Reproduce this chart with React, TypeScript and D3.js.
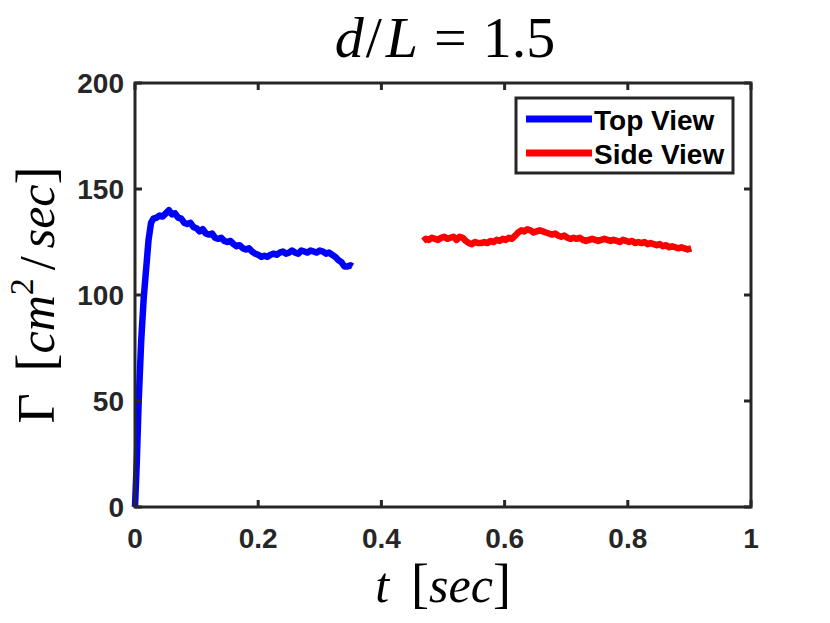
import * as d3 from 'd3'

// Top View (blue) and Side View (red) circulation
const topViewTime = [
  0, 0.003, 0.006, 0.01, 0.014, 0.018, 0.022, 0.026, 0.03, 0.035, 0.04, 0.045, 0.05, 0.055, 0.06, 0.065,
  0.07, 0.075, 0.08, 0.085, 0.09, 0.095, 0.1, 0.105, 0.11, 0.115, 0.12, 0.125, 0.13, 0.135, 0.14, 0.145,
  0.15, 0.155, 0.16, 0.165, 0.17, 0.175, 0.18, 0.185, 0.19, 0.195, 0.2, 0.205, 0.21, 0.215, 0.22, 0.225,
  0.23, 0.235, 0.24, 0.245, 0.25, 0.255, 0.26, 0.265, 0.27, 0.275, 0.28, 0.285, 0.29, 0.295, 0.3, 0.305,
  0.31, 0.315, 0.32, 0.325, 0.33, 0.335, 0.34, 0.345, 0.35, 0.353,
]
const topViewGamma = [
  0, 22, 50, 78, 98, 112, 126, 134, 136, 136.5, 137.5, 137, 138.5, 140, 138, 138.5,
  136.5, 136, 134, 133.5, 134, 132, 131.5, 130, 131, 129, 128.5, 129, 127, 126.5, 127, 125.5,
  125, 125.5, 124, 123, 123.5, 122, 121.5, 122, 120.5, 119.5, 119, 118, 118.5, 118, 119, 119.5,
  119, 120, 120.5, 119.5, 120, 121, 120, 119.5, 121, 120.5, 120, 121, 120.5, 120, 121, 120.5,
  119.5, 120, 119, 118, 116.5, 115.5, 113.5, 113.5, 114, 113.5,
]

const sideViewTime = [
  0.468, 0.472, 0.477, 0.482, 0.487, 0.492, 0.497, 0.502, 0.507, 0.512, 0.517, 0.522, 0.527, 0.532,
  0.537, 0.542, 0.547, 0.552, 0.557, 0.562, 0.567, 0.572, 0.577, 0.582, 0.587, 0.592, 0.597, 0.602,
  0.607, 0.612, 0.617, 0.622, 0.627, 0.632, 0.637, 0.642, 0.647, 0.652, 0.657, 0.662, 0.667, 0.672,
  0.677, 0.682, 0.687, 0.692, 0.697, 0.702, 0.707, 0.712, 0.717, 0.722, 0.727, 0.732, 0.737, 0.742,
  0.747, 0.752, 0.757, 0.762, 0.767, 0.772, 0.777, 0.782, 0.787, 0.792, 0.797, 0.802, 0.807, 0.812,
  0.817, 0.822, 0.827, 0.832, 0.837, 0.842, 0.847, 0.852, 0.857, 0.862, 0.867, 0.872, 0.877, 0.882,
  0.887, 0.892, 0.897, 0.903,
]
const sideViewGamma = [
  125.5, 126.5, 126, 127, 126.5, 126, 127, 127.5, 126.5, 127, 127.5, 126, 127.5, 127,
  125.5, 124.5, 124, 125, 124.5, 124.5, 125, 124.5, 125.5, 125, 126, 125.5, 126.5, 126,
  127, 126.5, 128, 129.5, 130.5, 130, 131, 130.5, 129.5, 130, 130.5, 130, 129.5, 129,
  128.5, 129, 128, 127.5, 128, 127, 126.5, 127, 126.5, 127, 126, 125.5, 126, 126.5,
  126, 125.5, 126, 126.5, 126, 125.5, 126, 125.5, 125, 126, 125.5, 125, 125.5, 124.5,
  125, 124.5, 125, 124, 124.5, 124, 123.5, 124, 123, 123.5, 122.5, 123, 122.5, 122,
  122.5, 122, 121.5, 122,
]

const xTicks = [0, 0.2, 0.4, 0.6, 0.8, 1]
const xTickLabels = ['0', '0.2', '0.4', '0.6', '0.8', '1']
const yTicks = [0, 50, 100, 150, 200]
const yTickLabels = ['0', '50', '100', '150', '200']

const legendLabels = ['Top View', 'Side View']
const seriesColors = ['#0000ff', '#ff0000']

const W = 830
const H = 623
const margin = { left: 135, right: 79, top: 83, bottom: 116 }
const axisColor = '#262626'
const tickFont = '"Liberation Sans", Arial, sans-serif'
const mathFont = '"Liberation Serif", "Times New Roman", serif'

export default function App() {
  const x = d3.scaleLinear().domain([0, 1]).range([margin.left, W - margin.right])
  const y = d3.scaleLinear().domain([0, 200]).range([H - margin.bottom, margin.top])

  const line = d3
    .line<[number, number]>()
    .x(d => x(d[0]))
    .y(d => y(d[1]))

  const topPts = topViewTime.map((t, i) => [t, topViewGamma[i]] as [number, number])
  const sidePts = sideViewTime.map((t, i) => [t, sideViewGamma[i]] as [number, number])

  const x0 = x(0), x1 = x(1), y0 = y(0), y1 = y(200)
  const tickLen = 7

  // legend box
  const lg = { x: 516, y: 98, w: 217, h: 75 }

  return (
    <svg width={W} height={H} style={{ position: 'absolute', left: 0, top: 0, background: '#fff' }}>
      <rect x={0} y={0} width={W} height={H} fill="#fff" />

      {/* data */}
      <path d={line(topPts) || ''} fill="none" stroke={seriesColors[0]} strokeWidth={6.5} strokeLinejoin="round" />
      <path d={line(sidePts) || ''} fill="none" stroke={seriesColors[1]} strokeWidth={6.5} strokeLinejoin="round" />

      {/* axes box */}
      <rect x={x0} y={y1} width={x1 - x0} height={y0 - y1} fill="none" stroke={axisColor} strokeWidth={3} />

      {/* ticks */}
      {xTicks.map(t => (
        <g key={'xt' + t}>
          <line x1={x(t)} x2={x(t)} y1={y0} y2={y0 - tickLen} stroke={axisColor} strokeWidth={3} />
          <line x1={x(t)} x2={x(t)} y1={y1} y2={y1 + tickLen} stroke={axisColor} strokeWidth={3} />
        </g>
      ))}
      {yTicks.map(v => (
        <g key={'yt' + v}>
          <line x1={x0} x2={x0 + tickLen} y1={y(v)} y2={y(v)} stroke={axisColor} strokeWidth={3} />
          <line x1={x1} x2={x1 - tickLen} y1={y(v)} y2={y(v)} stroke={axisColor} strokeWidth={3} />
        </g>
      ))}

      {/* tick labels */}
      {xTicks.map((t, i) => (
        <text key={'xl' + t} x={x(t)} y={y0 + 41} textAnchor="middle" fontFamily={tickFont}
          fontWeight="bold" fontSize={28} fill={axisColor}>
          {xTickLabels[i]}
        </text>
      ))}
      {yTicks.map((v, i) => (
        <text key={'yl' + v} x={x0 - 11} y={y(v) + 10} textAnchor="end" fontFamily={tickFont}
          fontWeight="bold" fontSize={28} fill={axisColor}>
          {yTickLabels[i]}
        </text>
      ))}

      {/* title */}
      <text x={(x0 + x1) / 2 + 2} y={57} textAnchor="middle" fontFamily={mathFont} fontSize={58} fill="#000">
        <tspan fontStyle="italic">d</tspan>
        <tspan dx={2}>/</tspan>
        <tspan dx={4} fontStyle="italic">L</tspan>
        <tspan dx={16}>=</tspan>
        <tspan dx={16}>1.5</tspan>
      </text>

      {/* x label */}
      <text x={(x0 + x1) / 2} y={602} textAnchor="middle" fontFamily={mathFont} fontSize={50} fill="#000">
        <tspan fontStyle="italic">t</tspan>
        <tspan dx={22} fontSize={54}>[</tspan>
        <tspan fontStyle="italic">sec</tspan>
        <tspan fontSize={54}>]</tspan>
      </text>

      {/* y label */}
      <text transform={`translate(54,${(y0 + y1) / 2}) rotate(-90)`} textAnchor="middle"
        fontFamily={mathFont} fontSize={52} fill="#000">
        <tspan>Γ</tspan>
        <tspan dx={22} fontSize={54}>[</tspan>
        <tspan fontStyle="italic" fontSize={50}>cm</tspan>
        <tspan dy={-21} fontSize={34}>2</tspan>
        <tspan dy={21} dx={8} fontSize={50}>/</tspan>
        <tspan dx={8} fontStyle="italic" fontSize={50}>sec</tspan>
        <tspan fontSize={54}>]</tspan>
      </text>

      {/* legend */}
      <rect x={lg.x} y={lg.y} width={lg.w} height={lg.h} fill="#fff" stroke={axisColor} strokeWidth={3} />
      {legendLabels.map((lab, i) => {
        const ly = lg.y + 21 + i * 34
        return (
          <g key={lab}>
            <line x1={lg.x + 10} x2={lg.x + 76} y1={ly} y2={ly} stroke={seriesColors[i]} strokeWidth={7} />
            <text x={lg.x + 78} y={ly + 11} fontFamily={tickFont} fontWeight="bold" fontSize={28} fill="#000">
              {lab}
            </text>
          </g>
        )
      })}
    </svg>
  )
}
